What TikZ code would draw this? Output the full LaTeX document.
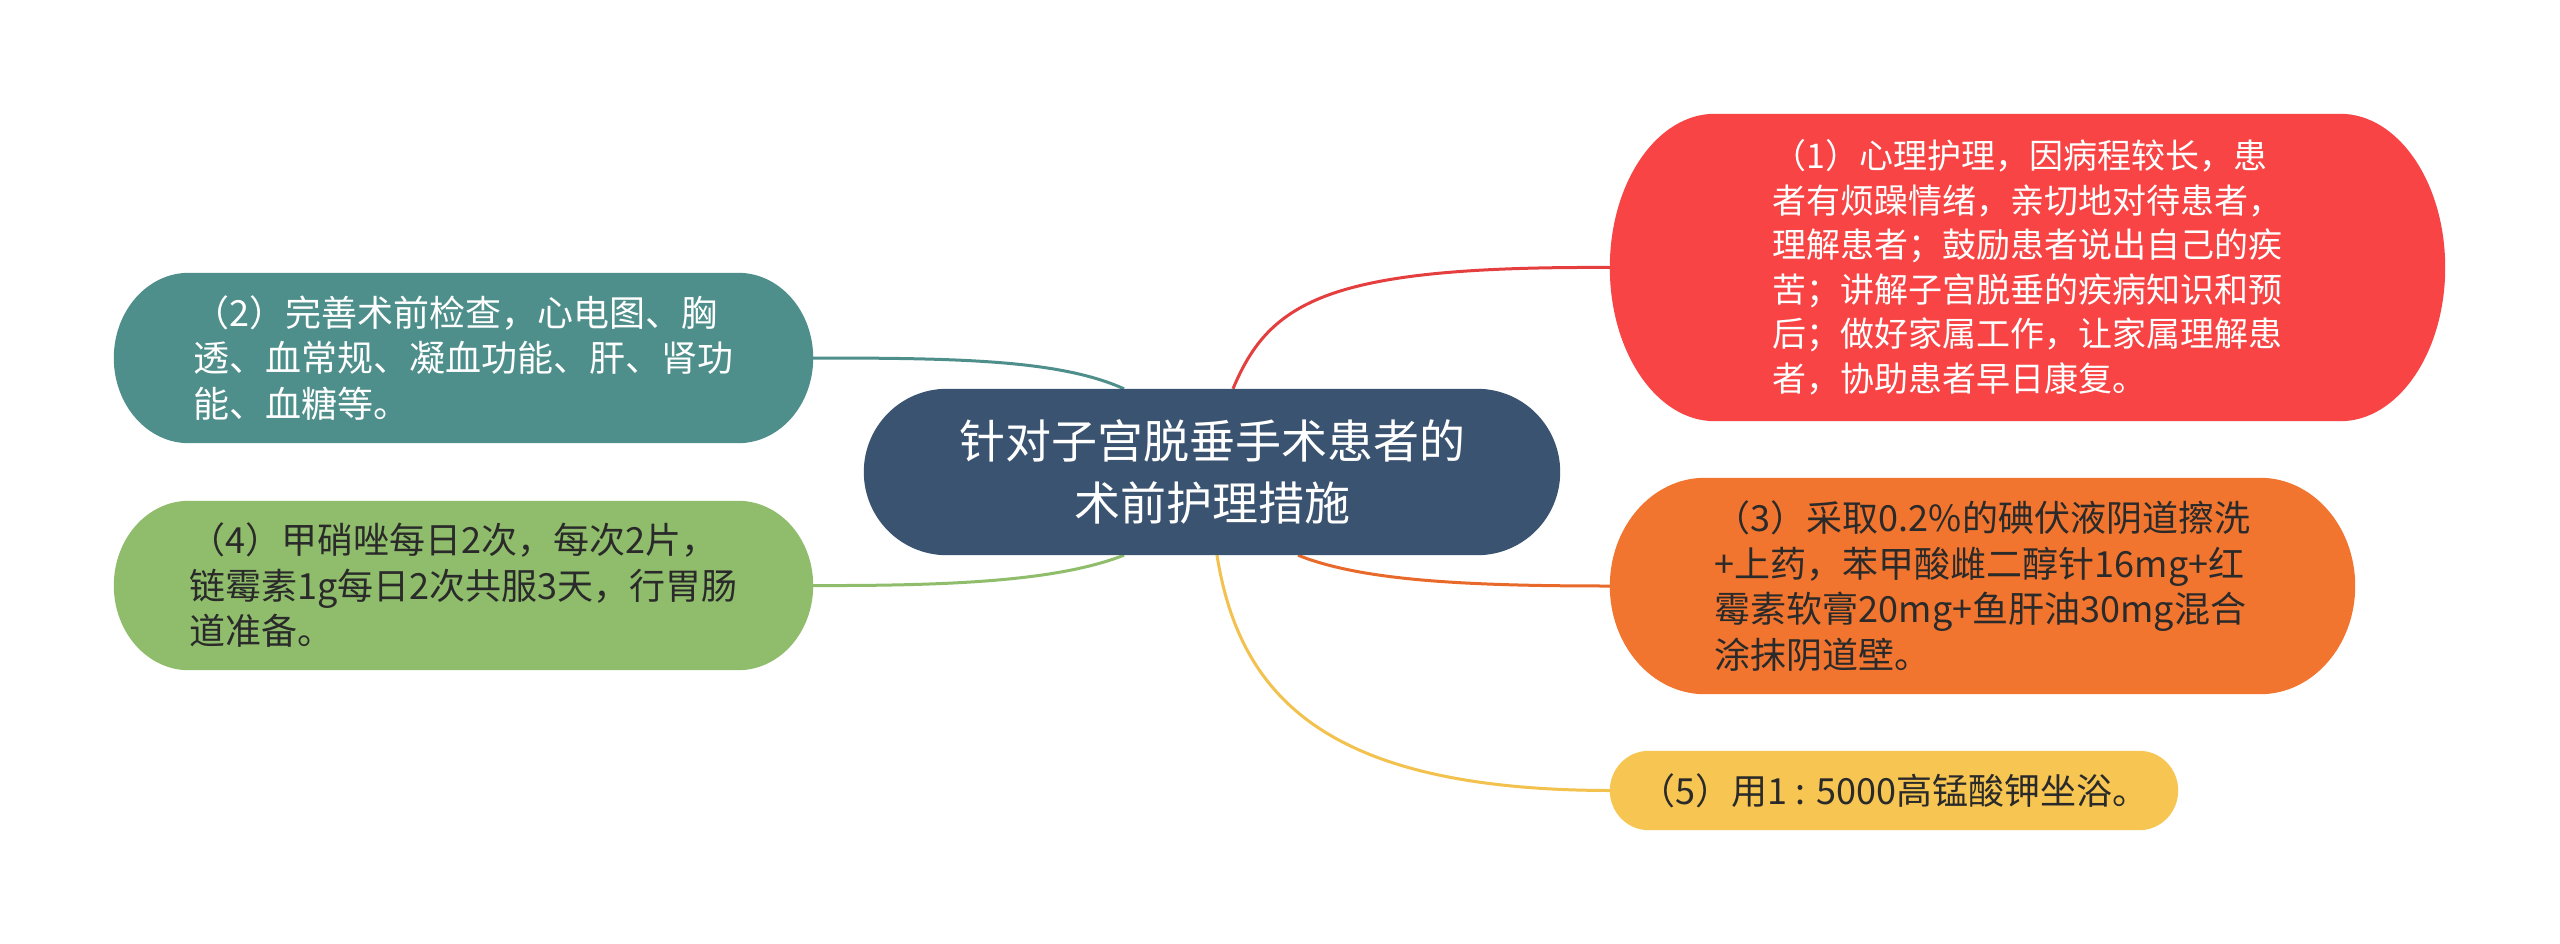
\documentclass[tikz,border=0pt]{standalone}
\usepackage{fontspec}
\newfontfamily\cjk{Noto Sans CJK SC}
\usetikzlibrary{calc,backgrounds}
\definecolor{cRed}{HTML}{F84444}
\definecolor{cRedL}{HTML}{E53E3E}
\definecolor{cTeal}{HTML}{4E8F8B}
\definecolor{cGreen}{HTML}{8FBD6B}
\definecolor{cOrange}{HTML}{F1752F}
\definecolor{cOrangeL}{HTML}{E8692A}
\definecolor{cYellow}{HTML}{F7C652}
\definecolor{cYellowL}{HTML}{F2C14E}
\definecolor{cCenter}{HTML}{3A5370}
\definecolor{cDark}{HTML}{2A2A2A}
\newcommand\pillbg[3]{%
  \path[fill=#2] let \p1=(#1.north west), \p2=(#1.south east), \n1={(\y1-\y2)/2} in
    (\x1+#3,\y1) -- (\x2-#3,\y1)
    arc[start angle=90,end angle=-90,x radius=#3,y radius=\n1]
    -- (\x1+#3,\y2)
    arc[start angle=270,end angle=90,x radius=#3,y radius=\n1] -- cycle;}
\tikzset{
  box/.style={font=\cjk\fontsize{36pt}{45.5pt}\selectfont, align=left, inner sep=0pt},
  conn/.style={line width=3pt},
}
\begin{document}
\begin{tikzpicture}[x=1pt,y=-1pt]
\useasboundingbox (0,0) rectangle (2560,943);

\node[box, align=center, font=\cjk\fontsize{46pt}{62pt}\selectfont, text=white,
      minimum width=696pt, minimum height=166pt] (c) at (1212,472)
  {针对子宫脱垂手术患者的\\术前护理措施};

\node[box, font=\cjk\fontsize{34pt}{44.5pt}\selectfont, text=white,
      minimum width=835pt, minimum height=307pt] (n1) at (2027.5,267.5)
  {（1）心理护理，因病程较长，患\\者有烦躁情绪，亲切地对待患者，\\理解患者；鼓励患者说出自己的疾\\苦；讲解子宫脱垂的疾病知识和预\\后；做好家属工作，让家属理解患\\者，协助患者早日康复。};

\node[box, text=white, minimum width=699pt, minimum height=170pt] (n2) at (463.5,358)
  {（2）完善术前检查，心电图、胸\\透、血常规、凝血功能、肝、肾功\\能、血糖等。};

\node[box, text=cDark, minimum width=745pt, minimum height=216pt] (n3) at (1982.5,586)
  {（3）采取0.2\%的碘伏液阴道擦洗\\+上药，苯甲酸雌二醇针16mg+红\\霉素软膏20mg+鱼肝油30mg混合\\涂抹阴道壁。};

\node[box, text=cDark, minimum width=699pt, minimum height=169pt] (n4) at (463.5,585.5)
  {（4）甲硝唑每日2次，每次2片，\\链霉素1g每日2次共服3天，行胃肠\\道准备。};

\node[box, text=cDark, minimum width=568pt, minimum height=79pt] (n5) at (1894,790.5)
  {（5）用1 : 5000高锰酸钾坐浴。};

\begin{scope}[on background layer]
  \fill[white] (0,0) rectangle (2560,943);
  \draw[conn, cRedL] ([xshift=21pt]c.north) .. controls (1270,300) and (1330,266) .. (n1.west);
  \draw[conn, cTeal] ([xshift=-88pt]c.north) .. controls (1060,360) and (960,358) .. (n2.east);
  \draw[conn, cGreen] ([xshift=-88pt]c.south) .. controls (1060,580) and (960,586) .. (n4.east);
  \draw[conn, cOrangeL] ([xshift=86pt]c.south) .. controls (1360,580) and (1460,586) .. (n3.west);
  \draw[conn, cYellowL] ([xshift=5pt]c.south) .. controls (1240,700) and (1330,790) .. (n5.west);
  \pillbg{c}{cCenter}{83pt}
  \pillbg{n1}{cRed}{105pt}
  \pillbg{n2}{cTeal}{75pt}
  \pillbg{n3}{cOrange}{95pt}
  \pillbg{n4}{cGreen}{75pt}
  \pillbg{n5}{cYellow}{39pt}
\end{scope}
\end{tikzpicture}
\end{document}
